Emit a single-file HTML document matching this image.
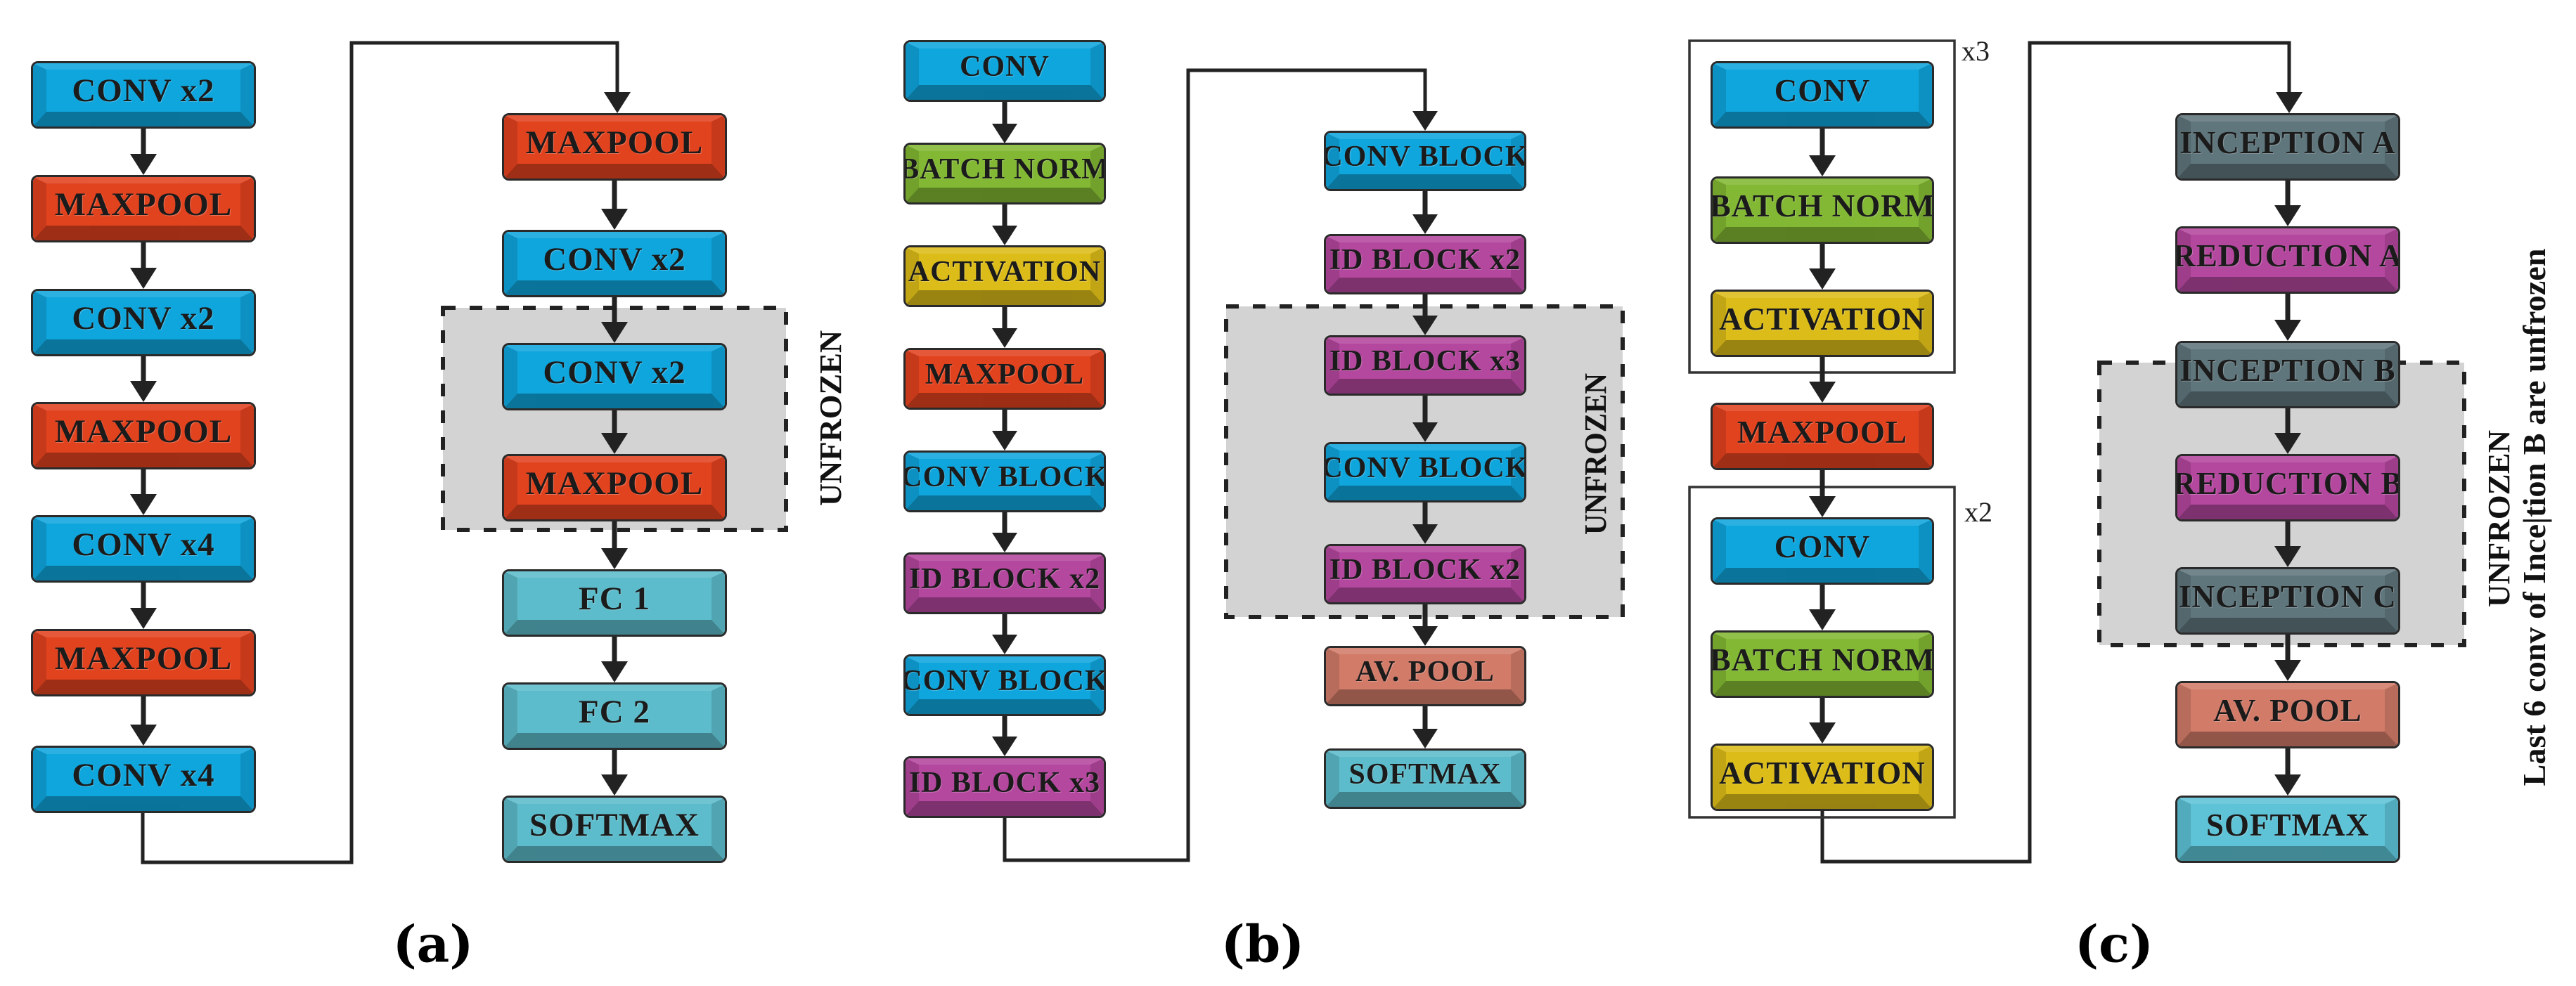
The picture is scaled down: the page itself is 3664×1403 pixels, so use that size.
<!DOCTYPE html>
<html><head><meta charset="utf-8"><style>
body{margin:0;width:3664px;height:1403px;background:#fff;position:relative;overflow:hidden;font-family:"Liberation Serif",serif}
.bx{position:absolute;box-sizing:border-box;border:3px solid #2a2a2a;border-radius:10px;overflow:hidden}
.bx div{width:100%;height:100%;box-sizing:border-box;border-style:solid;border-width:9px 19px 21px 19px;border-color:rgba(255,255,255,.12) rgba(0,0,0,.12) rgba(0,0,0,.3) rgba(0,0,0,.12);display:flex;align-items:center;justify-content:center;font-family:"Liberation Serif","Times New Roman",serif;font-weight:bold;color:#1b1b1b;white-space:nowrap;letter-spacing:1px;text-shadow:1px 1px 0 rgba(255,255,255,.25)}
.a div{font-size:47px}.b div{font-size:42px}.c div{font-size:45px}
.bl div{background:#0fa6dd}.rd div{background:#e2431f}.tl div{background:#5dbccb}
.gr div{background:#82b833}.yl div{background:#dcbc19}.mg div{background:#b4479e}
.gy div{background:#5f767d}.sa div{background:#d27b69}.sm div{background:#5ec3d6}
.lbl{position:absolute;font-weight:bold;font-size:72px;transform:translate(-50%,-50%);font-family:"DejaVu Serif","Liberation Serif",serif}
</style></head><body>

<svg width="3664" height="1403" style="position:absolute;left:0;top:0">
<g fill="#d3d3d3" stroke="#222" stroke-width="6" stroke-dasharray="18 20">
<rect x="630" y="438" width="488" height="316"/>
<rect x="1744" y="436" width="564" height="442"/>
<rect x="2986" y="516" width="519" height="402"/>
</g>
<g fill="none" stroke="#222" stroke-width="5">
<path d="M203 1157V1227H500V61H878V135"/>
<path d="M1429 1164V1224H1690V100H2027V160"/>
<path d="M2592 1154V1226H2887V61H3256V135"/>
<rect x="2403" y="58" width="377" height="472" stroke="#333" stroke-width="3.5"/>
<rect x="2403" y="693" width="377" height="470" stroke="#333" stroke-width="3.5"/>
</g>
<g stroke="#222" stroke-width="7">
<line x1="204" y1="183" x2="204" y2="225"/><line x1="204" y1="345" x2="204" y2="387"/><line x1="204" y1="507" x2="204" y2="548"/><line x1="204" y1="668" x2="204" y2="709"/><line x1="204" y1="829" x2="204" y2="871"/><line x1="204" y1="991" x2="204" y2="1037"/>
<line x1="874" y1="257" x2="874" y2="303"/><line x1="874" y1="423" x2="874" y2="464"/><line x1="874" y1="584" x2="874" y2="622"/><line x1="874" y1="742" x2="874" y2="786"/><line x1="874" y1="906" x2="874" y2="947"/><line x1="874" y1="1067" x2="874" y2="1108"/>
<line x1="1429" y1="145" x2="1429" y2="180"/><line x1="1429" y1="291" x2="1429" y2="326"/><line x1="1429" y1="437" x2="1429" y2="472"/><line x1="1429" y1="583" x2="1429" y2="618"/><line x1="1429" y1="729" x2="1429" y2="763"/><line x1="1429" y1="874" x2="1429" y2="908"/><line x1="1429" y1="1019" x2="1429" y2="1053"/>
<line x1="2027" y1="272" x2="2027" y2="310"/><line x1="2027" y1="419" x2="2027" y2="454"/><line x1="2027" y1="563" x2="2027" y2="606"/><line x1="2027" y1="715" x2="2027" y2="751"/><line x1="2027" y1="860" x2="2027" y2="896"/><line x1="2027" y1="1005" x2="2027" y2="1042"/>
<line x1="2592" y1="183" x2="2592" y2="228"/><line x1="2592" y1="347" x2="2592" y2="389"/><line x1="2592" y1="508" x2="2592" y2="550"/><line x1="2592" y1="669" x2="2592" y2="713"/><line x1="2592" y1="832" x2="2592" y2="874"/><line x1="2592" y1="993" x2="2592" y2="1035"/>
<line x1="3254" y1="257" x2="3254" y2="299"/><line x1="3254" y1="418" x2="3254" y2="462"/><line x1="3254" y1="581" x2="3254" y2="623"/><line x1="3254" y1="742" x2="3254" y2="784"/><line x1="3254" y1="903" x2="3254" y2="946"/><line x1="3254" y1="1065" x2="3254" y2="1109"/>
</g>
<g fill="#222">
<path d="M185 219h38l-19 30z"/><path d="M185 381h38l-19 30z"/><path d="M185 542h38l-19 30z"/><path d="M185 703h38l-19 30z"/><path d="M185 865h38l-19 30z"/><path d="M185 1031h38l-19 30z"/>
<path d="M859 131h38l-19 30z"/>
<path d="M855 297h38l-19 30z"/><path d="M855 458h38l-19 30z"/><path d="M855 616h38l-19 30z"/><path d="M855 780h38l-19 30z"/><path d="M855 941h38l-19 30z"/><path d="M855 1102h38l-19 30z"/>
<path d="M1411 176h36l-18 28z"/><path d="M1411 321h36l-18 28z"/><path d="M1411 467h36l-18 28z"/><path d="M1411 613h36l-18 28z"/><path d="M1411 758h36l-18 28z"/><path d="M1411 903h36l-18 28z"/><path d="M1411 1048h36l-18 28z"/>
<path d="M2009 158h36l-18 28z"/>
<path d="M2009 305h36l-18 28z"/><path d="M2009 449h36l-18 28z"/><path d="M2009 601h36l-18 28z"/><path d="M2009 746h36l-18 28z"/><path d="M2009 891h36l-18 28z"/><path d="M2009 1037h36l-18 28z"/>
<path d="M2573 221h38l-19 30z"/><path d="M2573 382h38l-19 30z"/><path d="M2573 543h38l-19 30z"/><path d="M2573 706h38l-19 30z"/><path d="M2573 867h38l-19 30z"/><path d="M2573 1028h38l-19 30z"/>
<path d="M3237 131h38l-19 30z"/>
<path d="M3235 292h38l-19 30z"/><path d="M3235 455h38l-19 30z"/><path d="M3235 616h38l-19 30z"/><path d="M3235 777h38l-19 30z"/><path d="M3235 939h38l-19 30z"/><path d="M3235 1102h38l-19 30z"/>
</g>
<g font-family="Liberation Serif, serif" font-weight="bold" fill="#111" font-size="44">
<text transform="translate(1196 595) rotate(-90)" text-anchor="middle" textLength="250" lengthAdjust="spacingAndGlyphs">UNFROZEN</text>
<text transform="translate(2284 646) rotate(-90)" text-anchor="middle" textLength="230" lengthAdjust="spacingAndGlyphs">UNFROZEN</text>
<text transform="translate(3569 738) rotate(-90)" text-anchor="middle" textLength="252" lengthAdjust="spacingAndGlyphs">UNFROZEN</text>
<text transform="translate(3620 736) rotate(-90)" text-anchor="middle" textLength="765" lengthAdjust="spacingAndGlyphs" font-size="46">Last 6 conv of Ince|tion B are unfrozen</text>
</g>
<g font-family="Liberation Serif, serif" fill="#222" font-size="40">
<text x="2790" y="86">x3</text><text x="2794" y="742">x2</text>
</g>
</svg>

<div class="bx a bl" style="left:44px;top:87px;width:320px;height:96px"><div>CONV x2</div></div>
<div class="bx a rd" style="left:44px;top:249px;width:320px;height:96px"><div>MAXPOOL</div></div>
<div class="bx a bl" style="left:44px;top:411px;width:320px;height:96px"><div>CONV x2</div></div>
<div class="bx a rd" style="left:44px;top:572px;width:320px;height:96px"><div>MAXPOOL</div></div>
<div class="bx a bl" style="left:44px;top:733px;width:320px;height:96px"><div>CONV x4</div></div>
<div class="bx a rd" style="left:44px;top:895px;width:320px;height:96px"><div>MAXPOOL</div></div>
<div class="bx a bl" style="left:44px;top:1061px;width:320px;height:96px"><div>CONV x4</div></div>
<div class="bx a rd" style="left:714px;top:161px;width:320px;height:96px"><div>MAXPOOL</div></div>
<div class="bx a bl" style="left:714px;top:327px;width:320px;height:96px"><div>CONV x2</div></div>
<div class="bx a bl" style="left:714px;top:488px;width:320px;height:96px"><div>CONV x2</div></div>
<div class="bx a rd" style="left:714px;top:646px;width:320px;height:96px"><div>MAXPOOL</div></div>
<div class="bx a tl" style="left:714px;top:810px;width:320px;height:96px"><div>FC 1</div></div>
<div class="bx a tl" style="left:714px;top:971px;width:320px;height:96px"><div>FC 2</div></div>
<div class="bx a tl" style="left:714px;top:1132px;width:320px;height:96px"><div>SOFTMAX</div></div>
<div class="bx b bl" style="left:1285px;top:57px;width:288px;height:88px"><div>CONV</div></div>
<div class="bx b gr" style="left:1285px;top:203px;width:288px;height:88px"><div>BATCH NORM</div></div>
<div class="bx b yl" style="left:1285px;top:349px;width:288px;height:88px"><div>ACTIVATION</div></div>
<div class="bx b rd" style="left:1285px;top:495px;width:288px;height:88px"><div>MAXPOOL</div></div>
<div class="bx b bl" style="left:1285px;top:641px;width:288px;height:88px"><div>CONV BLOCK</div></div>
<div class="bx b mg" style="left:1285px;top:786px;width:288px;height:88px"><div>ID BLOCK x2</div></div>
<div class="bx b bl" style="left:1285px;top:931px;width:288px;height:88px"><div>CONV BLOCK</div></div>
<div class="bx b mg" style="left:1285px;top:1076px;width:288px;height:88px"><div>ID BLOCK x3</div></div>
<div class="bx b bl" style="left:1883px;top:186px;width:288px;height:86px"><div>CONV BLOCK</div></div>
<div class="bx b mg" style="left:1883px;top:333px;width:288px;height:86px"><div>ID BLOCK x2</div></div>
<div class="bx b mg" style="left:1883px;top:477px;width:288px;height:86px"><div>ID BLOCK x3</div></div>
<div class="bx b bl" style="left:1883px;top:629px;width:288px;height:86px"><div>CONV BLOCK</div></div>
<div class="bx b mg" style="left:1883px;top:774px;width:288px;height:86px"><div>ID BLOCK x2</div></div>
<div class="bx b sa" style="left:1883px;top:919px;width:288px;height:86px"><div>AV. POOL</div></div>
<div class="bx b tl" style="left:1883px;top:1065px;width:288px;height:86px"><div>SOFTMAX</div></div>
<div class="bx c bl" style="left:2433px;top:87px;width:318px;height:96px"><div>CONV</div></div>
<div class="bx c gr" style="left:2433px;top:251px;width:318px;height:96px"><div>BATCH NORM</div></div>
<div class="bx c yl" style="left:2433px;top:412px;width:318px;height:96px"><div>ACTIVATION</div></div>
<div class="bx c rd" style="left:2433px;top:573px;width:318px;height:96px"><div>MAXPOOL</div></div>
<div class="bx c bl" style="left:2433px;top:736px;width:318px;height:96px"><div>CONV</div></div>
<div class="bx c gr" style="left:2433px;top:897px;width:318px;height:96px"><div>BATCH NORM</div></div>
<div class="bx c yl" style="left:2433px;top:1058px;width:318px;height:96px"><div>ACTIVATION</div></div>
<div class="bx c gy" style="left:3094px;top:161px;width:320px;height:96px"><div>INCEPTION A</div></div>
<div class="bx c mg" style="left:3094px;top:322px;width:320px;height:96px"><div>REDUCTION A</div></div>
<div class="bx c gy" style="left:3094px;top:485px;width:320px;height:96px"><div>INCEPTION B</div></div>
<div class="bx c mg" style="left:3094px;top:646px;width:320px;height:96px"><div>REDUCTION B</div></div>
<div class="bx c gy" style="left:3094px;top:807px;width:320px;height:96px"><div>INCEPTION C</div></div>
<div class="bx c sa" style="left:3094px;top:969px;width:320px;height:96px"><div>AV. POOL</div></div>
<div class="bx c sm" style="left:3094px;top:1132px;width:320px;height:96px"><div>SOFTMAX</div></div>

<div class="lbl" style="left:616px;top:1343px">(a)</div>
<div class="lbl" style="left:1796px;top:1343px">(b)</div>
<div class="lbl" style="left:3007px;top:1343px">(c)</div>
</body></html>
